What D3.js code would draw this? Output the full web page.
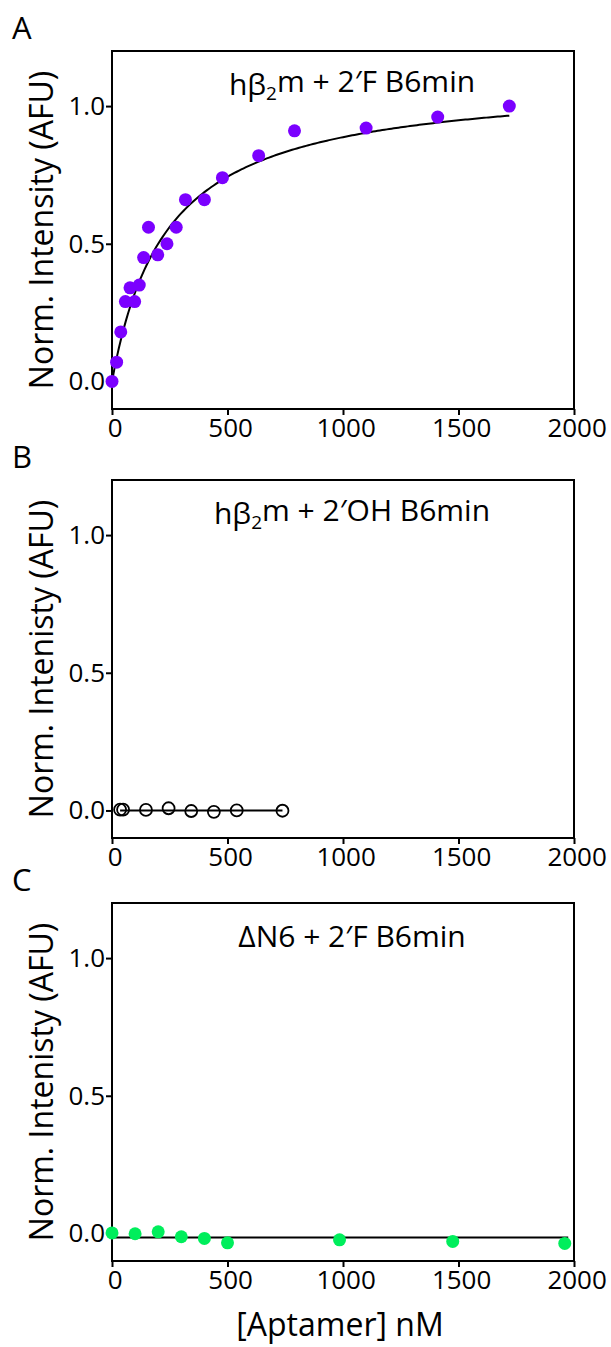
<!DOCTYPE html>
<html>
<head>
<meta charset="utf-8">
<script src="https://cdnjs.cloudflare.com/ajax/libs/d3/7.8.5/d3.min.js"></script>
<style>
  body { margin: 0; background: #fff; }
  svg text { font-family: "Open Sans", sans-serif; fill: #000; }
</style>
</head>
<body>
<script>
// #region data
// panel A : h-beta2m + 2'F B6min (filled purple, hyperbolic fit)
var aConc = [0, 20, 38, 58, 78, 98, 118, 137, 158, 198, 238, 278, 318, 400, 478, 635, 790, 1100, 1410, 1720];
var aNorm = [0.00, 0.07, 0.18, 0.29, 0.34, 0.29, 0.35, 0.45, 0.56, 0.46, 0.50, 0.56, 0.66, 0.66, 0.74, 0.82, 0.91, 0.92, 0.96, 1.00];
var aFitBmax = 1.10, aFitKd = 240, aFitEnd = 1720;

// panel B : h-beta2m + 2'OH B6min (open circles, flat line)
var bConc = [35, 48, 147, 245, 343, 441, 540, 738];
var bNorm = [0.003, 0.003, 0.002, 0.008, -0.002, -0.005, 0.000, -0.001];
var bFitX = [35, 738], bFitY = [0, 0];

// panel C : dN6 + 2'F B6min (filled green, flat line)
var cConc = [0, 100, 200, 300, 400, 500, 985, 1475, 1960];
var cNorm = [0.002, -0.001, 0.006, -0.012, -0.018, -0.034, -0.023, -0.029, -0.036];
var cFitX = [0, 1975], cFitY = [-0.015, -0.015];

var xTicks = [0, 500, 1000, 1500, 2000];
var yTicks = [0, 0.5, 1.0];
// #endregion

var width = 611, height = 1347;
var plotLeft = 112, plotRight = 574, plotH = 358;

var svg = d3.select("body").append("svg")
    .attr("width", width)
    .attr("height", height);

var x = d3.scaleLinear().domain([0, 2000]).range([plotLeft, plotRight]);

// fit curve for panel A, one site binding
function hyperbola(bmax, kd, end) {
  return d3.range(0, end + 1, 10).map(function(c) { return [c, bmax * c / (kd + c)]; });
}

var panels = [
  { letter: "A", top: 51, ylab: "Norm. Intensity (AFU)", title: ["hβ", "2", "m + 2′F B6min"],
    xs: aConc, ys: aNorm, fit: hyperbola(aFitBmax, aFitKd, aFitEnd), fill: "#7b00ff", open: false },
  { letter: "B", top: 480, ylab: "Norm. Intenisty (AFU)", title: ["hβ", "2", "m + 2′OH B6min"],
    xs: bConc, ys: bNorm, fit: d3.zip(bFitX, bFitY), fill: "none", open: true },
  { letter: "C", top: 903, ylab: "Norm. Intenisty (AFU)", title: ["ΔN6 + 2′F B6min"],
    xs: cConc, ys: cNorm, fit: d3.zip(cFitX, cFitY), fill: "#00ee5c", open: false }
];

panels.forEach(function(p) {
  var y = d3.scaleLinear().domain([-0.1, 1.2]).range([p.top + plotH, p.top]);
  var g = svg.append("g");

  // axes
  g.append("g")
      .attr("transform", "translate(0," + (p.top + plotH) + ")")
      .call(d3.axisBottom(x).tickValues(xTicks).tickFormat(d3.format("d")).tickSize(6).tickPadding(4).tickSizeOuter(0))
      .call(function(a) { a.select(".domain").remove(); })
      .selectAll("text").style("font-size", "26px").attr("dx", "0.1em");

  g.append("g")
      .attr("transform", "translate(" + plotLeft + ",0)")
      .call(d3.axisLeft(y).tickValues(yTicks).tickFormat(d3.format(".1f")).tickSize(6).tickPadding(1).tickSizeOuter(0))
      .call(function(a) { a.select(".domain").remove(); })
      .selectAll("text").style("font-size", "26px");

  g.selectAll(".tick line").attr("stroke", "#000").attr("stroke-width", 2);

  // frame
  g.append("rect")
      .attr("x", plotLeft).attr("y", p.top)
      .attr("width", plotRight - plotLeft).attr("height", plotH)
      .attr("fill", "none").attr("stroke", "#000").attr("stroke-width", 2);

  // fit line
  g.append("path")
      .datum(p.fit)
      .attr("fill", "none").attr("stroke", "#000").attr("stroke-width", 2)
      .attr("d", d3.line().x(function(d) { return x(d[0]); }).y(function(d) { return y(d[1]); }));

  // points
  g.selectAll(".pt")
      .data(d3.zip(p.xs, p.ys))
    .enter().append("circle")
      .attr("class", "pt")
      .attr("cx", function(d) { return x(d[0]); })
      .attr("cy", function(d) { return y(d[1]); })
      .attr("r", p.open ? 6 : 6.5)
      .attr("fill", p.open ? "#fff" : p.fill)
      .attr("fill-opacity", p.open ? 0 : 1)
      .attr("stroke", p.open ? "#000" : "none")
      .attr("stroke-width", 1.8);

  // title inside plot
  var t = g.append("text")
      .attr("x", 352).attr("y", p.top + 44)
      .attr("text-anchor", "middle")
      .style("font-size", "30px");
  p.title.forEach(function(s, i) {
    var ts = t.append("tspan").text(s);
    if (i == 1) ts.attr("dy", "0.25em").style("font-size", "19px");
    if (i == 2) ts.attr("dy", "-0.25em");
  });

  // y label
  g.append("text")
      .attr("transform", "translate(53," + (p.top + plotH / 2) + ") rotate(-90)")
      .attr("text-anchor", "middle")
      .style("font-size", "32px")
      .text(p.ylab);

  // panel letter
  g.append("text")
      .attr("x", 12).attr("y", p.top - 12)
      .style("font-size", "31px")
      .text(p.letter);
});

svg.append("text")
    .attr("x", 340).attr("y", 1336)
    .attr("text-anchor", "middle")
    .style("font-size", "32px")
    .text("[Aptamer] nM");
</script>
</body>
</html>
